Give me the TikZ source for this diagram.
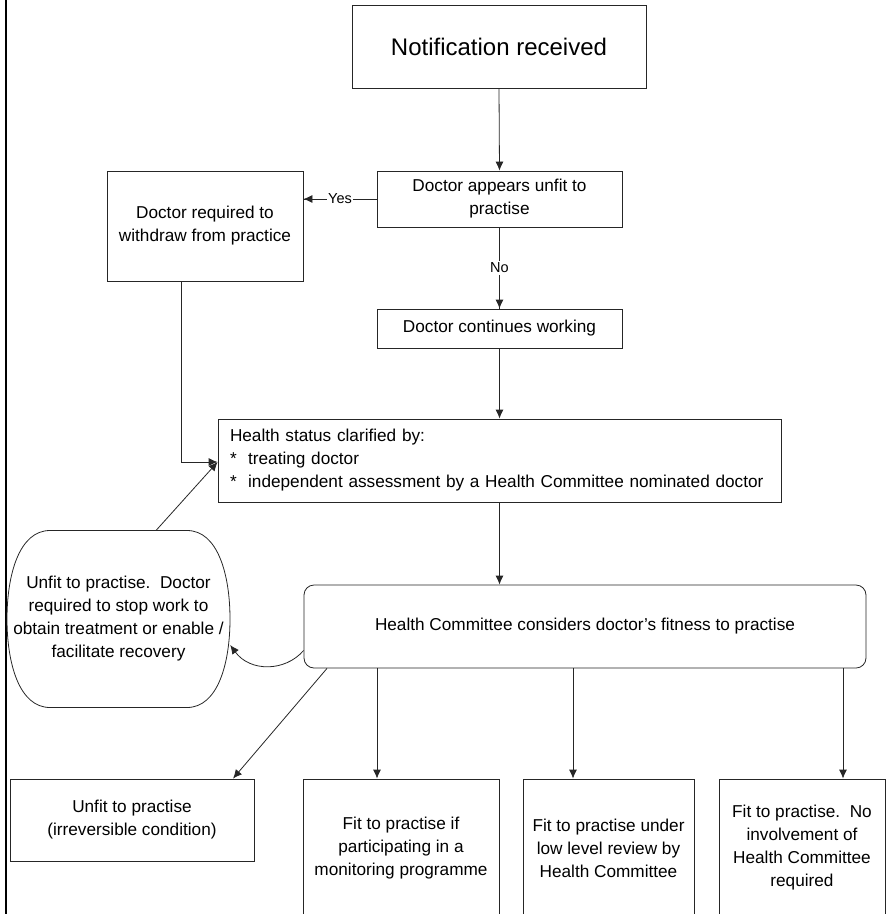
\documentclass[tikz,border=0pt]{standalone}
\usepackage{fontspec}
\setmainfont{Liberation Sans}
\usetikzlibrary{arrows.meta}
\begin{document}
\begin{tikzpicture}[x=1pt,y=-1pt,
  every node/.style={font=\fontsize{17.2}{23}\selectfont},
  box/.style={draw=black!85,line width=0.8pt,align=center,inner sep=2pt},
  lbl/.style={fill=white,inner sep=1.5pt,font=\fontsize{14.5}{17}\selectfont},
  arr/.style={draw=black!85,line width=0.8pt,-{Latex[length=9pt,width=8pt]}},
  ln/.style={draw=black!85,line width=0.8pt}]
\useasboundingbox (0,0) rectangle (887,914);
\clip (0,0) rectangle (887,914);
% left frame line
\draw[line width=1.8pt] (5.7,-5) -- (5.7,920);
% nodes
\node[box,minimum width=294pt,minimum height=83pt,font=\fontsize{24}{28}\selectfont] (notif) at (499,46.5) {Notification received};
\node[box,minimum width=245pt,minimum height=56pt] (appears) at (499.5,199) {Doctor appears unfit to\\practise};
\node[box,minimum width=196pt,minimum height=110pt] (withdraw) at (205,226) {Doctor required to\\withdraw from practice};
\node[box,minimum width=245pt,minimum height=39pt] (cont) at (499.5,328.5) {Doctor continues working};
\node[box,minimum width=563pt,minimum height=83pt,text width=539pt,align=left,inner xsep=12pt] (hs) at (499.5,460.5) {Health status clarified by:\\ {*}\ \ treating doctor\\ {*}\ \ independent assessment by a Health Committee nominated doctor};
\node[box,rounded corners=10pt,minimum width=562pt,minimum height=83pt] (hc) at (585,626.5) {Health Committee considers doctor\char"0027 s fitness to practise};
\node[align=center,minimum width=223pt,minimum height=177pt,inner sep=0pt] (recov) at (118.5,619) {Unfit to practise.\ \ Doctor\\required to stop work to\\obtain treatment or enable /\\facilitate recovery};
\draw[ln] (50,530.5) -- (187,530.5) .. controls (218,530.5) and (230,575) .. (230,619)
  .. controls (230,663) and (218,707.5) .. (187,707.5) -- (50,707.5)
  .. controls (19,707.5) and (7,663) .. (7,619) .. controls (7,575) and (19,530.5) .. (50,530.5) -- cycle;
\node[box,minimum width=244pt,minimum height=82pt] (irr) at (132,820) {Unfit to practise\\(irreversible condition)};
\node[box,minimum width=196pt,minimum height=138pt] (monit) at (401,848) {Fit to practise if\\participating in a\\monitoring programme};
\node[box,minimum width=171pt,minimum height=138pt] (low) at (608.5,848) {Fit to practise under\\low level review by\\Health Committee};
\node[box,minimum width=166pt,minimum height=138pt] (nofit) at (802,848) {Fit to practise.\ \ No\\involvement of\\Health Committee\\required};
% connectors
\draw[arr] (notif.south) -- (appears.north);
\draw[ln] (appears.west) -- node[lbl] (yes) {Yes} (withdraw.east |- appears.west);
\draw[arr] (yes.west) -- (withdraw.east |- appears.west);
\draw[ln] (appears.south) -- node[lbl] (no) {No} (cont.north);
\draw[arr] (no.south) -- (cont.north);
\draw[arr] (cont.south) -- (hs.north);
\draw[arr] ([xshift=-24pt]withdraw.south) |- ([yshift=-1.5pt]hs.west);
\coordinate (rtop) at (156,530.5);
\draw[arr] (rtop) -- ([yshift=-1.5pt]hs.west);
\draw[arr] (hs.south) -- (hs.south |- hc.north);
\draw[arr] ([yshift=-24pt]hc.west) .. controls (285,672) and (250,672) .. ([yshift=-26pt]recov.east);
\draw[arr] ([xshift=-258pt]hc.south) -- ([xshift=101pt]irr.north);
\draw[arr] ([xshift=-208pt]hc.south) -- ([xshift=-24pt]monit.north);
\draw[arr] ([xshift=-12pt]hc.south) -- ([xshift=-35.5pt]low.north);
\draw[arr] ([xshift=258pt]hc.south) -- ([xshift=41pt]nofit.north);
\end{tikzpicture}
\end{document}
